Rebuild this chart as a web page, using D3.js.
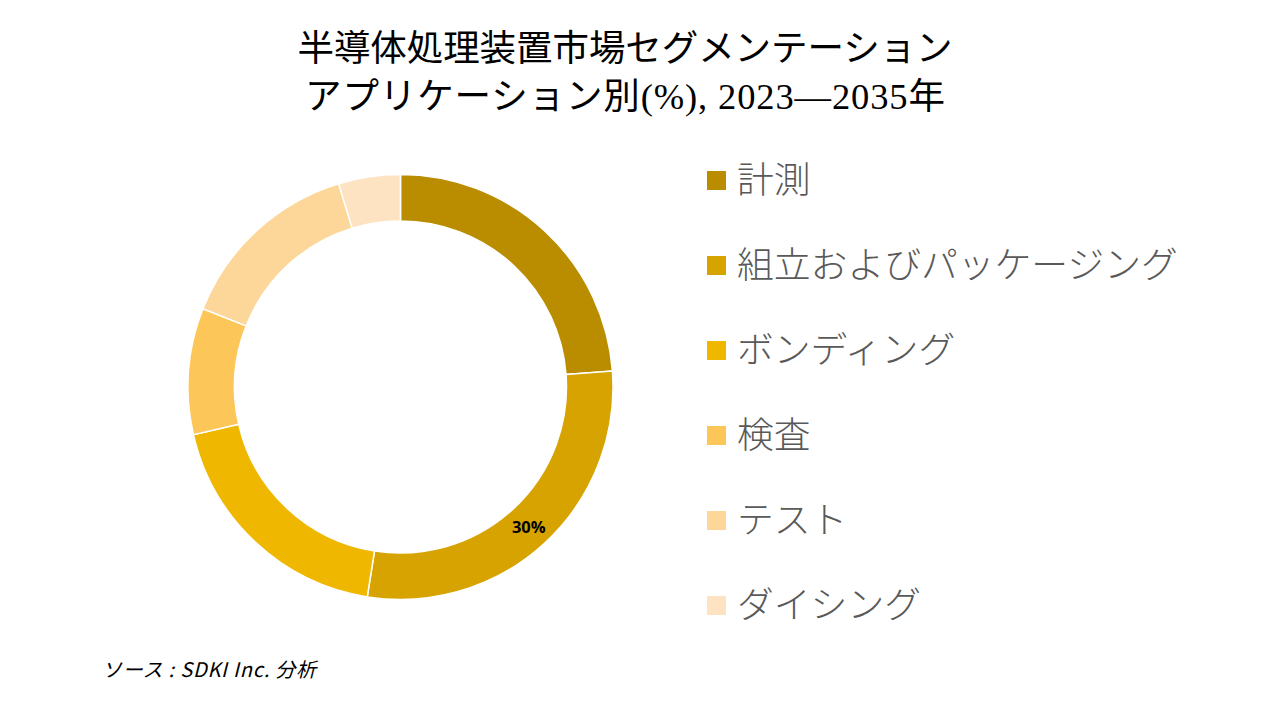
<!DOCTYPE html>
<html><head><meta charset="utf-8">
<script src="https://cdn.jsdelivr.net/npm/d3@7"></script>
<style>
html,body{margin:0;padding:0;background:#fff;}
svg{display:block;}
</style></head>
<body>
<svg id="chart" width="1280" height="720"></svg>
<script>
const titleLines = ["半導体処理装置市場セグメンテーション", "アプリケーション別(%), 2023—2035年"];
const categories = ["計測", "組立およびパッケージング", "ボンディング", "検査", "テスト", "ダイシング"];
const values = [23.8, 28.7, 18.9, 9.6, 14.3, 4.7];
const sliceLabels = ["", "30%", "", "", "", ""];
const colors = ["#BA8C00", "#D6A300", "#F0B700", "#FCC758", "#FDD699", "#FDE3C2"];
const source = "ソース : SDKI Inc. 分析";

const svg = d3.select("#chart");
const cx = 400.5, cy = 387, rOuter = 212.5, rInner = 166;

// title
const title = svg.append("text")
  .attr("text-anchor", "middle")
  .attr("font-family", "'Liberation Serif','Noto Sans CJK JP',serif")
  .attr("font-size", 36.5)
  .attr("fill", "#000");
const titleWidths = [655, 640];
titleLines.forEach((t, i) => {
  title.append("tspan").attr("x", 625).attr("y", 61 + i * 48)
    .attr("textLength", titleWidths[i]).attr("lengthAdjust", "spacing")
    .text(t);
});

const data = categories.map((c, i) => ({cat: c, value: values[i], label: sliceLabels[i], color: colors[i]}));
const pie = d3.pie().value(d => d.value).sort(null);
const arc = d3.arc().innerRadius(rInner).outerRadius(rOuter);
const arcs = pie(data);

const g = svg.append("g").attr("transform", `translate(${cx},${cy})`);
g.selectAll("path").data(arcs).join("path")
  .attr("d", arc)
  .attr("fill", d => d.data.color)
  .attr("stroke", "#fff")
  .attr("stroke-width", 1.5);

g.selectAll("text.lbl").data(arcs.filter(d => d.data.label)).join("text")
  .attr("class", "lbl")
  .attr("transform", d => `translate(${arc.centroid(d)})`)
  .attr("text-anchor", "middle")
  .attr("dominant-baseline", "central")
  .attr("font-family", "'Open Sans','Noto Sans',sans-serif")
  .attr("font-weight", "bold")
  .attr("font-size", 16.5)
  .attr("fill", "#000")
  .text(d => d.data.label);

// legend
const ly = d3.scalePoint().domain(categories).range([180.5, 605.5]);
const leg = svg.append("g");
const items = leg.selectAll("g").data(data).join("g")
  .attr("transform", d => `translate(0,${ly(d.cat)})`);
items.append("rect")
  .attr("x", 707).attr("y", -9.5).attr("width", 19).attr("height", 19)
  .attr("fill", d => d.color);
items.append("text")
  .attr("x", 737).attr("y", -4)
  .attr("dominant-baseline", "central")
  .attr("font-family", "'Noto Sans CJK JP',sans-serif")
  .attr("font-weight", 300)
  .attr("font-size", 36.8)
  .attr("fill", "#595959")
  .text(d => d.cat);

// source
svg.append("text")
  .attr("x", 102).attr("y", 677)
  .attr("font-family", "'Noto Sans CJK JP','Open Sans',sans-serif")
  .attr("font-style", "italic")
  .attr("font-size", 20)
  .attr("fill", "#000")
  .attr("textLength", 214).attr("lengthAdjust", "spacing")
  .text(source);
</script>
</body></html>
